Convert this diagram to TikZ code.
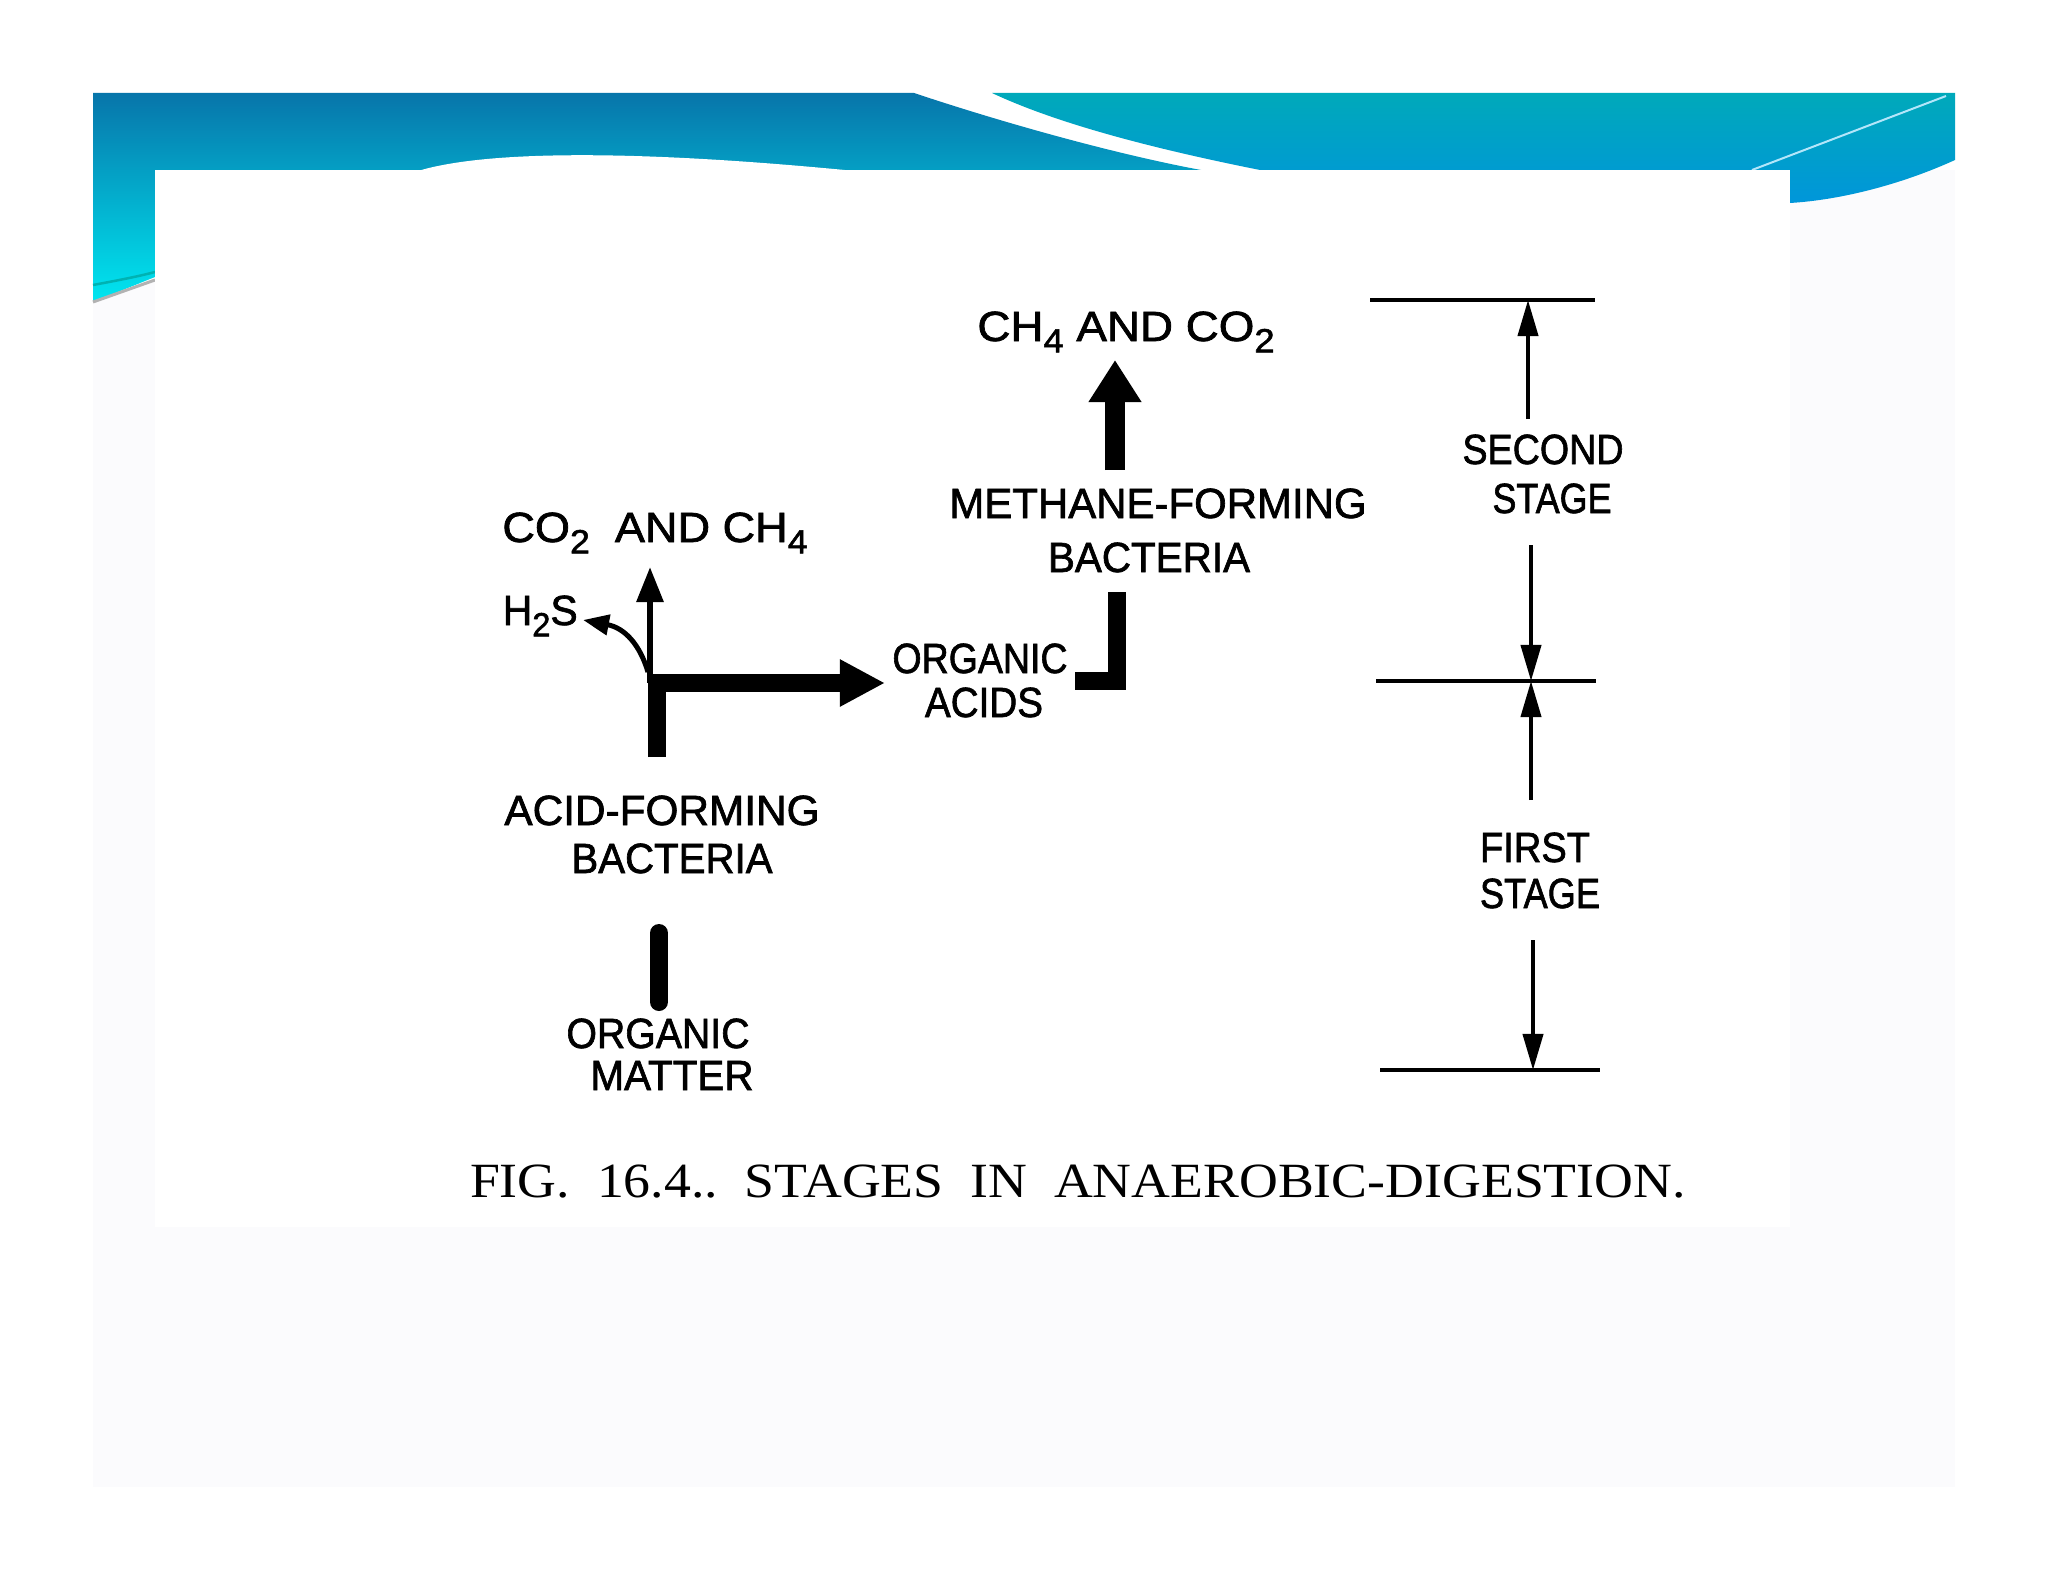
\documentclass[tikz,border=0pt]{standalone}
\usepackage{fontspec}
\setmainfont{Liberation Sans}
\newfontfamily\lblfont[FakeBold=1.6]{Liberation Sans}
\newfontfamily\capfont{Liberation Serif}
\usetikzlibrary{arrows.meta}
\newcommand{\fitw}[2]{\resizebox{#1}{\height}{#2}}
\newcommand{\sbs}[1]{\raisebox{-3.2pt}{\fontsize{9.5}{10}\selectfont #1}}
\definecolor{bandA}{HTML}{0775AA}
\definecolor{bandB}{HTML}{0A9ABF}
\definecolor{bandC}{HTML}{00E6F0}
\definecolor{bandD}{HTML}{00A9BA}
\definecolor{bandE}{HTML}{0096DA}
\definecolor{pagegray}{HTML}{FBFBFD}
\tikzset{
  lbl/.style={font=\lblfont\fontsize{12}{14}\selectfont, inner sep=0pt, anchor=base},
  thickbar/.style={line width=0.18cm},
  thickarrow/.style={line width=0.18cm, -{Triangle[length=0.45cm,width=0.44cm]}},
  bigup/.style={line width=0.2cm, -{Triangle[length=0.42cm,width=0.5cm]}},
  thinarrow/.style={line width=0.06cm, -{Triangle[length=0.35cm,width=0.26cm]}},
  sidearrow/.style={line width=0.05cm, -{Triangle[length=0.26cm,width=0.2cm]}},
  dimline/.style={line width=0.045cm},
  dimarrow/.style={line width=0.04cm, -{Triangle[length=0.36cm,width=0.2cm]}}
}
\begin{document}
\begin{tikzpicture}[x=0.01cm,y=-0.01cm]
\useasboundingbox (0,0) rectangle (2048,1582);
\fill[white] (0,0) rectangle (2048,1582);
% slide background
\fill[pagegray] (93,170) rectangle (1955,1487);
% banner left part
\shade[top color=bandA, middle color=bandB, bottom color=bandC]
  (93,93) -- (914,93) .. controls (1010,125) and (1120,155) .. (1201,170)
  -- (155,170) -- (155,277) -- (93,302) -- cycle;
% banner right part
\shade[top color=bandD, bottom color=bandE]
  (992,93) -- (1955,93) -- (1955,160) .. controls (1900,185) and (1840,200) .. (1790,203)
  -- (1790,170) -- (1260,170) .. controls (1160,150) and (1060,125) .. (992,93) -- cycle;
\draw[white!70!cyan, line width=0.02cm] (1946,96) -- (1752,170);
\draw[teal!60!cyan, line width=0.025cm] (93,285) .. controls (120,280) and (140,276) .. (155,272);
\draw[gray!60, line width=0.03cm] (93,302) -- (155,280);
% white hump
\fill[white] (418,171) .. controls (480,152) and (620,148) .. (855,171) -- cycle;
% content area
\fill[white] (155,170) rectangle (1790,1227);

% ---- labels ----
\node[lbl] (co2ch4) at (655,542) {\fitw{3.05cm}{CO\sbs{2}\ \ AND CH\sbs{4}}};
\node[lbl, anchor=base west] (h2s) at (502,625) {\fitw{0.75cm}{H\sbs{2}S}};
\node[lbl] (orgac1) at (980,673) {\fitw{1.75cm}{ORGANIC}};
\node[lbl] (orgac2) at (984,717) {\fitw{1.18cm}{ACIDS}};
\node[lbl] (meth1) at (1158,518) {\fitw{4.17cm}{METHANE-FORMING}};
\node[lbl] (meth2) at (1149,572) {\fitw{2.02cm}{BACTERIA}};
\node[lbl] (ch4co2) at (1126,341) {\fitw{2.97cm}{CH\sbs{4} AND CO\sbs{2}}};
\node[lbl] (acid1) at (662,825) {\fitw{3.15cm}{ACID-FORMING}};
\node[lbl] (acid2) at (672,873) {\fitw{2.01cm}{BACTERIA}};
\node[lbl] (om1) at (658,1048) {\fitw{1.83cm}{ORGANIC}};
\node[lbl] (om2) at (672,1090) {\fitw{1.63cm}{MATTER}};
\node[lbl] (sec1) at (1543,464) {\fitw{1.61cm}{SECOND}};
\node[lbl] (sec2) at (1552,513) {\fitw{1.19cm}{STAGE}};
\node[lbl] (fir1) at (1535,862) {\fitw{1.10cm}{FIRST}};
\node[lbl] (fir2) at (1540,908) {\fitw{1.20cm}{STAGE}};
\node[inner sep=0pt, anchor=base, font=\capfont\fontsize{14}{16}\selectfont] (cap) at (1078,1197)
  {\fitw{12.15cm}{FIG.\ \ 16.4..\ \ STAGES\ \ IN\ \ ANAEROBIC-DIGESTION.}};

% ---- coordinates ----
\coordinate (omtop) at (659,1002);
\coordinate (acbot) at (659,933);
\coordinate (actop) at (657,757);
\coordinate (jb) at (657,676);
\coordinate (j) at (650,683);
\coordinate (jl) at (648,672);
\coordinate (upTip) at (650,567);
\coordinate (h2sTip) at (583,620);
\coordinate (oaTip) at (885,683);
\coordinate (lstart) at (1075,681);
\coordinate (ltop) at (1117,592);
\coordinate (mbot) at (1115,470);
\coordinate (mtip) at (1115,360);

\coordinate (d1a) at (1370,300); \coordinate (d1b) at (1595,300);
\coordinate (d2a) at (1376,681); \coordinate (d2b) at (1596,681);
\coordinate (d3a) at (1380,1070); \coordinate (d3b) at (1600,1070);

% ---- connectors ----
\draw[thickbar, line cap=round] (omtop) -- (acbot);
\draw[thickbar] (actop) -- (jb);
\draw[thickarrow] (j) -- (oaTip);
\draw[thinarrow] (j) -- (upTip);
\draw[sidearrow] (jl) .. controls (640,645) and (625,628) .. (h2sTip);
\draw[thickbar] (lstart) -| (ltop);
\draw[bigup] (mbot) -- (mtip);

\draw[dimline] (d1a) -- (d1b);
\draw[dimline] (d2a) -- (d2b);
\draw[dimline] (d3a) -- (d3b);
\draw[dimarrow] (1528,419) -- (1528,300);
\draw[dimarrow] (1531,545) -- (1531,681);
\draw[dimarrow] (1531,800) -- (1531,681);
\draw[dimarrow] (1533,940) -- (1533,1070);
\end{tikzpicture}
\end{document}
